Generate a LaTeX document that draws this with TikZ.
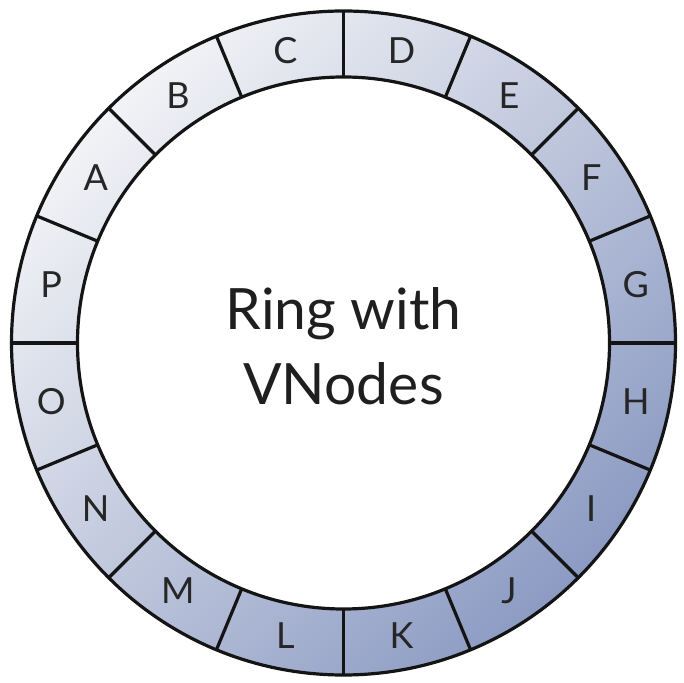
\documentclass[tikz,border=0pt]{standalone}
\usepackage{fontspec}
\setmainfont{Lato}
\begin{document}
\begin{tikzpicture}[x=1pt,y=1pt,
  ringline/.style={line width=3.2pt,draw=black!92},
  letter/.style={font=\fontsize{36}{36}\selectfont, text=black!85, inner sep=0pt},
  title/.style={font=\fontsize{57}{75}\selectfont, align=center, text=black!88, inner sep=0pt}]
\useasboundingbox (0,0) rectangle (684,682);
\coordinate (c) at (343.5,339);
\shade[top color={rgb,255:red,242;green,243;blue,246}, middle color={rgb,255:red,210;green,216;blue,230}, bottom color={rgb,255:red,140;green,155;blue,195}, shading angle=45]
  (c) circle (332);
\fill[white] (c) circle (266);
\draw[ringline] (c) circle (332) (c) circle (266);
\foreach \i in {0,...,15}
  \draw[ringline] ([shift={(90+22.5*\i:266)}]c) -- ([shift={(90+22.5*\i:332)}]c);
\foreach \l [count=\i from 0] in {A,B,C,D,E,F,G,H,I,J,K,L,M,N,O,P}
  \node[letter] (n\l) at ([shift={(146.25-22.5*\i:298)}]c) {\l};
\node[title] (title) at ([yshift=-3]c) {Ring with\\VNodes};
\end{tikzpicture}
\end{document}
